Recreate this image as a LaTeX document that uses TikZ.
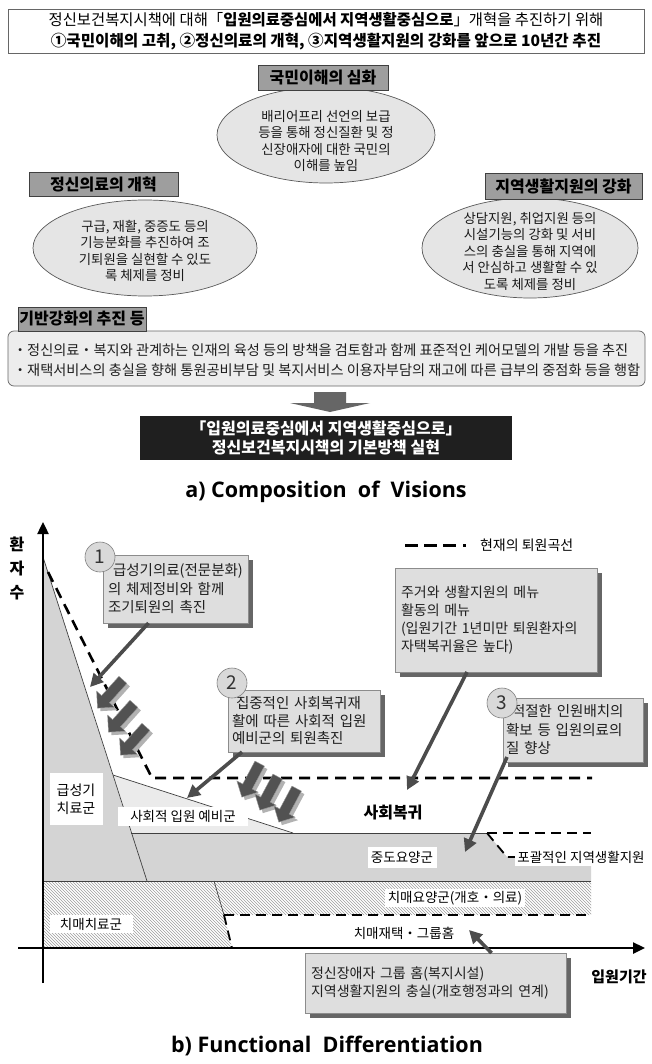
\documentclass[tikz,border=0pt]{standalone}
\usepackage{fontspec}
\setmainfont{Noto Sans CJK KR}
\newfontfamily\capfont{Open Sans}
\usepackage{tikz}
\usetikzlibrary{arrows.meta,positioning,shapes.geometric,shapes.arrows,shadows,patterns,backgrounds}
\newcommand{\fsz}[2]{\fontsize{#1}{#2}\selectfont}

\begin{document}
\begin{tikzpicture}[
    x=1pt, y=-1pt,
    every node/.style={inner sep=0pt, outer sep=0pt},
    framebox/.style={draw=black!60, line width=0.8pt, minimum width=636pt, minimum height=44pt},
    headbox/.style={draw=black!75, fill=black!38, line width=0.6pt, font=\bfseries\fsz{16}{19}},
    bubble/.style={ellipse, draw=black!65, line width=0.7pt, fill=black!10},
    bubtext/.style={align=center, text=black!90, font=\fsz{13.4}{16.5}},
    link/.style={draw=black!65, line width=6pt},
    notebox/.style={draw=black!60, fill=black!7, rounded corners=6pt, line width=0.7pt},
    darkbox/.style={fill=black!88, text=white, align=center, font=\bfseries\fsz{16}{19.5}},
    capt/.style={font=\capfont\bfseries\fsz{21.5}{24}},
    axis/.style={line width=2.4pt, -{Triangle[length=12pt,width=11pt]}},
    callout/.style={draw=black!45, fill=black!13, line width=0.6pt, align=left, anchor=north west,
        text=black!88, font=\fsz{14.5}{18.5},
        drop shadow={shadow xshift=5pt, shadow yshift=-5pt, fill=black!60, opacity=1}},
    numdot/.style={circle, draw=black!50, fill=black!15, line width=0.6pt, minimum size=30pt,
        font=\fsz{19}{19}, text=black!80},
    callarrow/.style={draw=black!70, line width=3.6pt, -{Triangle[length=13pt,width=13pt]}},
    blockarrow/.style={single arrow, minimum height=38pt, minimum width=24pt,
        single arrow head extend=4pt, inner sep=3pt},
    whitelab/.style={fill=white, inner sep=3pt, font=\fsz{13.5}{17}},
    thinline/.style={draw=black!75, line width=0.7pt},
    dashline/.style={draw=black, line width=1.8pt, dash pattern=on 10pt off 6pt},
    curveline/.style={draw=black, line width=2.6pt, dash pattern=on 11pt off 7pt},
]
\useasboundingbox (0,0) rectangle (651,1064);
\fill[white] (0,0) rectangle (651,1064);

% a) composition
\node[framebox, align=center, font=\fsz{15.4}{21}] (hdr) at (326,31)
    {정신보건복지시책에 대해「\textbf{입원의료중심에서 지역생활중심으로}」개혁을 추진하기 위해\\
     {\fsz{15.6}{21}\bfseries ①국민이해의 고취, ②정신의료의 개혁, ③지역생활지원의 강화를 앞으로 10년간 추진}};

\node[bubble, minimum width=218pt, minimum height=96pt] (pubE) at (326,135) {};
\node[bubble, minimum width=224pt, minimum height=96pt] (psyE) at (145,248) {};
\node[bubble, minimum width=216pt, minimum height=100pt] (locE) at (530,248) {};

\begin{scope}[on background layer]
\draw[link] (pubE.center) -- ([xshift=60pt]psyE.center);
\draw[link] ([xshift=17pt]pubE.center) -- ([xshift=-74pt]locE.center);
\draw[link] (psyE.center) -- (locE.center);
\end{scope}

\node[bubtext] (pubT) at (326,141) {배리어프리 선언의 보급\\등을 통해 정신질환 및 정\\신장애자에 대한 국민의\\이해를 높임};
\node[bubtext] (psyT) at (145,251) {구급, 재활, 중증도 등의\\기능분화를 추진하여 조\\기퇴원을 실현할 수 있도\\록 체제를 정비};
\node[bubtext] (locT) at (530,251) {상담지원, 취업지원 등의\\시설기능의 강화 및 서비\\스의 충실을 통해 지역에\\서 안심하고 생활할 수 있\\도록 체제를 정비};

\node[headbox, minimum width=130pt, minimum height=25pt] (pubH) at (323,77.5) {국민이해의 심화};
\node[headbox, minimum width=149pt, minimum height=24pt] (psyH) at (103.5,184) {정신의료의 개혁};
\node[headbox, minimum width=157pt, minimum height=26pt] (locH) at (563.5,186) {지역생활지원의 강화};

\node[notebox, minimum width=637pt, minimum height=55pt] (note) at (326.5,358.5) {};
\node[anchor=west, align=left, font=\fsz{14.2}{20}, text=black!88] (noteT) at (13,360)
    {・정신의료・복지와 관계하는 인재의 육성 등의 방책을 검토함과 함께 표준적인 케어모델의 개발 등을 추진\\
     ・재택서비스의 충실을 향해 통원공비부담 및 복지서비스 이용자부담의 재고에 따른 급부의 중점화 등을 행함};
\node[headbox, minimum width=128pt, minimum height=24pt] (baseH) at (82,319) {기반강화의 추진 등};

\fill[black!60] (314,392) -- (346,392) -- (346,403) -- (370,403) -- (330,412) -- (290,403) -- (314,403) -- cycle;

\node[darkbox, minimum width=372pt, minimum height=44pt] (goal) at (326,438)
    {「입원의료중심에서 지역생활중심으로」\\정신보건복지시책의 기본방책 실현};

\node[capt] (captA) at (326,492) {a) Composition\ \ of\ \ Visions};

% b) functional differentiation
\fill[black!17] (43,557) -- (131,833) -- (487,833) -- (507,857) -- (591,857) -- (591,881) -- (43,881) -- cycle;
\fill[black!8] (113,775) -- (293,833) -- (131,833) -- cycle;
\fill[pattern=north west lines, pattern color=black!38] (43,881) -- (591,881) -- (591,915) -- (224,915) -- (232,948) -- (43,948) -- cycle;

\draw[thinline] (43,557) -- (147,881);
\draw[thinline] (113,775) -- (293,833);
\draw[thinline] (131,833) -- (487,833);
\draw[thinline] (43,881) -- (591,881);
\draw[thinline] (214,881) -- (224,915);
\draw[dashline] (224,915) -- (232,948);
\draw[dashline] (224,915) -- (588,915);
\draw[dashline] (487,833) -- (591,833);
\draw[dashline] (487,833) -- (507,857) -- (591,857);
\draw[curveline] (48,572) -- (152,778) -- (592,778);

\coordinate (yorig) at (43,983);
\coordinate (ytip) at (43,522);
\coordinate (xorig) at (18,948);
\coordinate (xtip) at (645,948);
\draw[axis] (yorig) -- (ytip);
\draw[axis] (xorig) -- (xtip);

\node[align=center, font=\bfseries\fsz{16}{24}] (ylab) at (17,568) {환\\자\\수};
\node[font=\bfseries\fsz{15}{17}] (xlab) at (619,977) {입원기간};

\coordinate (legA) at (405,545);
\coordinate (legB) at (457,545);
\draw[draw=black, line width=3pt, dash pattern=on 13pt off 6pt] (legA) -- (legB);
\fill (463,543.5) rectangle (466,546.5);
\node[anchor=west, font=\fsz{14}{17}] (legT) at (480,545) {현재의 퇴원곡선};

\node[whitelab, align=center, minimum width=53pt, minimum height=52pt, font=\fsz{14}{18}] (acuteL) at (76,799) {급성기\\치료군};
\node[whitelab, minimum width=130pt, minimum height=19pt] (reserveL) at (183,816) {사회적 입원 예비군};
\node[font=\bfseries\fsz{16}{18}] (returnL) at (393,812) {사회복귀};
\node[whitelab, minimum width=69pt, minimum height=21pt] (middleL) at (402,857) {중도요양군};
\node[whitelab, inner xsep=2pt] (commL) at (581,857) {포괄적인 지역생활지원};
\node[whitelab, inner ysep=2pt] (demcareL) at (455,898) {치매요양군(개호・의료)};
\node[whitelab, minimum width=83pt, minimum height=18pt] (demtreatL) at (91,924) {치매치료군};
\node[font=\fsz{13.5}{17}] (demhomeL) at (404,933) {치매재택・그룹홈};

\foreach \ax/\ay/\ang [count=\i] in {112/692/228, 123/716/228, 135/739/228, 252/778/242, 270/791/242, 289/803/242} {
  \node[blockarrow, fill=black!30, rotate=\ang] (bas\i) at (\ax+3,\ay+3) {};
  \node[blockarrow, fill=black!68, draw=black!40, rotate=\ang] (ba\i) at (\ax,\ay) {};
}

\node[callout, minimum width=145pt, minimum height=68pt, text width=135pt, inner xsep=5pt] (c1box) at (103,555)
    {\hspace*{5pt}급성기의료(전문분화)\\의 체제정비와 함께\\조기퇴원의 촉진};
\node[callout, minimum width=152pt, minimum height=62pt, text width=144pt, inner xsep=4pt, font=\fsz{14.5}{17.5}] (c2box) at (228,690)
    {\hspace*{4pt}집중적인 사회복귀재\\활에 따른 사회적 입원\\예비군의 퇴원촉진};
\node[callout, minimum width=202pt, minimum height=104pt, text width=190pt, inner xsep=6pt, font=\fsz{14}{17.7}] (menu) at (395,568)
    {주거와 생활지원의 메뉴\\활동의 메뉴\\(입원기간 1년미만 퇴원환자의\\자택복귀율은 높다)};
\node[callout, minimum width=140pt, minimum height=64pt, text width=134pt, inner xsep=3pt] (c3box) at (503,698)
    {\hspace*{6pt}적절한 인원배치의\\확보 등 입원의료의\\질 향상};
\node[callout, minimum width=261pt, minimum height=60pt, text width=249pt, inner xsep=6pt, font=\fsz{14}{18.5}] (gh) at (305,953)
    {정신장애자 그룹 홈(복지시설)\\지역생활지원의 충실(개호행정과의 연계)};

\node[numdot] (n1) at (100,557) {1};
\node[numdot] (n2) at (232,683) {2};
\node[numdot] (n3) at (502,703) {3};

\coordinate (t1) at (90,687);
\coordinate (t2) at (187,798);
\coordinate (t3) at (407,790);
\coordinate (t4) at (465,852);
\coordinate (t5) at (469,930);
\draw[callarrow] ([xshift=-27pt]c1box.south) -- (t1);
\draw[callarrow] ([xshift=14pt]c2box.south west) -- (t2);
\draw[callarrow] ([xshift=-29pt]menu.south) -- (t3);
\draw[callarrow] ([xshift=4pt,yshift=5pt]c3box.south west) -- (t4);
\draw[callarrow] ([xshift=56pt]gh.north) -- (t5);

\node[capt] (captB) at (327,1046) {b) Functional\ \ Differentiation};

\end{tikzpicture}
\end{document}
